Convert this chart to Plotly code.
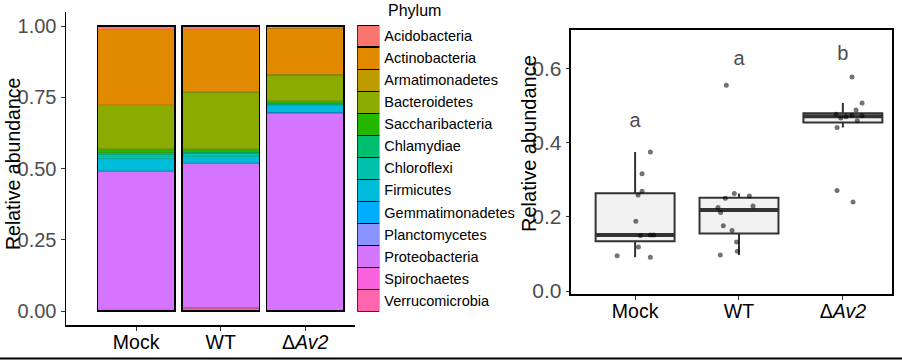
import numpy as np
import plotly.graph_objects as go

# ---------------- data ----------------
groups = ["Mock", "WT", "ΔAv2"]
group_ticktext = ["Mock", "WT", "Δ<i>Av2</i>"]

phyla = ["Acidobacteria", "Actinobacteria", "Armatimonadetes", "Bacteroidetes",
         "Saccharibacteria", "Chlamydiae", "Chloroflexi", "Firmicutes",
         "Gemmatimonadetes", "Planctomycetes", "Proteobacteria", "Spirochaetes",
         "Verrucomicrobia"]
phylum_colors = ["#F8766D", "#E18A00", "#BE9C00", "#8CAB00", "#24B700", "#00BE70",
                 "#00C1AB", "#00BBDA", "#00ACFC", "#8B93FF", "#D575FE", "#F962DD",
                 "#FF65AC"]

abund_mock = [0.014, 0.263, 0.002, 0.151, 0.015, 0.005, 0.015, 0.043, 0.002, 0.002, 0.483, 0.001, 0.004]
abund_wt   = [0.014, 0.217, 0.002, 0.197, 0.013, 0.004, 0.012, 0.020, 0.002, 0.002, 0.503, 0.004, 0.010]
abund_dav2 = [0.007, 0.163, 0.003, 0.090, 0.010, 0.002, 0.004, 0.024, 0.001, 0.002, 0.692, 0.001, 0.001]

# right panel: per-sample relative abundance with jitter offsets
vals_mock = [0.375, 0.316, 0.269, 0.259, 0.188, 0.150, 0.151, 0.151, 0.119, 0.095, 0.091]
jit_mock  = [0.147, 0.067, 0.067, 0.029, 0.007, 0.051, 0.147, 0.180, 0.032, -0.173, 0.147]
vals_wt   = [0.555, 0.263, 0.256, 0.250, 0.229, 0.225, 0.212, 0.176, 0.163, 0.132, 0.107, 0.097]
jit_wt    = [-0.122, -0.045, 0.100, -0.132, 0.135, -0.202, -0.177, -0.151, -0.067, -0.023, -0.016, -0.180]
vals_dav2 = [0.577, 0.507, 0.488, 0.477, 0.474, 0.473, 0.470, 0.467, 0.459, 0.441, 0.271, 0.240]
jit_dav2  = [0.088, 0.185, 0.127, -0.065, 0.088, 0.185, 0.030, -0.020, 0.139, -0.056, -0.056, 0.098]

letters = ["a", "a", "b"]
letter_y = [0.456, 0.624, 0.636]

# ---------------- styling ----------------
FONT = "Liberation Sans, Arial, sans-serif"
GREY_TXT = "#4D4D4D"
BAR_W = 0.92
BOX_W = 0.76

fig = go.Figure()
xpos = list(range(len(groups)))
abund = np.array([abund_mock, abund_wt, abund_dav2])  # groups x phyla

# stacked bars: last phylum at bottom (ggplot ordering)
for j in reversed(range(len(phyla))):
    fig.add_trace(go.Bar(
        x=xpos, y=abund[:, j], width=BAR_W, name=phyla[j],
        marker=dict(color=phylum_colors[j], line=dict(color="rgba(60,60,60,0.3)", width=0.5)),
        xaxis="x", yaxis="y", showlegend=False, hoverinfo="skip"))

# black outline per bar (overlay axis)
fig.add_trace(go.Bar(
    x=xpos, y=abund.sum(axis=1), width=BAR_W,
    marker=dict(color="rgba(0,0,0,0)", line=dict(color="black", width=1.5)),
    xaxis="x2", yaxis="y", showlegend=False, hoverinfo="skip"))

# legend keys as a subplot
fig.add_trace(go.Bar(
    y=phyla, x=[1] * len(phyla), orientation="h", width=1,
    marker=dict(color=phylum_colors, line=dict(color="black", width=1.2)),
    xaxis="x3", yaxis="y3", showlegend=False, hoverinfo="skip"))

# boxplots
all_vals = [vals_mock, vals_wt, vals_dav2]
all_jit = [jit_mock, jit_wt, jit_dav2]
q1s, meds, q3s, lows, highs = [], [], [], [], []
for v in all_vals:
    a = np.array(v)
    q1, med, q3 = np.percentile(a, [25, 50, 75])
    iqr = q3 - q1
    lows.append(float(a[a >= q1 - 1.5 * iqr].min()))
    highs.append(float(a[a <= q3 + 1.5 * iqr].max()))
    q1s.append(float(q1)); meds.append(float(med)); q3s.append(float(q3))

fig.add_trace(go.Box(
    x=xpos, q1=q1s, median=meds, q3=q3s, lowerfence=lows, upperfence=highs,
    width=BOX_W, whiskerwidth=0, fillcolor="#F2F2F2",
    line=dict(color="#333333", width=2), boxpoints=False,
    xaxis="x4", yaxis="y4", showlegend=False, hoverinfo="skip"))

# thick median lines
mx, my = [], []
for i, m in enumerate(meds):
    mx += [i - BOX_W / 2, i + BOX_W / 2, None]
    my += [m, m, None]
fig.add_trace(go.Scatter(x=mx, y=my, mode="lines", line=dict(color="#333333", width=4),
                         xaxis="x4", yaxis="y4", showlegend=False, hoverinfo="skip"))

# jittered points
px, py = [], []
for i, (v, jt) in enumerate(zip(all_vals, all_jit)):
    px += [i + d for d in jt]
    py += v
fig.add_trace(go.Scatter(x=px, y=py, mode="markers",
                         marker=dict(size=5, color="rgba(0,0,0,0.55)"),
                         xaxis="x4", yaxis="y4", showlegend=False, hoverinfo="skip"))

# significance letters
fig.add_trace(go.Scatter(x=xpos, y=letter_y, mode="text", text=letters,
                         textfont=dict(size=20, color=GREY_TXT, family=FONT),
                         xaxis="x4", yaxis="y4", showlegend=False, hoverinfo="skip"))

W, H = 902, 360
def px2x(p): return p / W
def px2y(p): return 1 - p / H

common = dict(showgrid=False, zeroline=False, automargin=False)

fig.update_layout(
    template="none",
    width=W, height=H, margin=dict(l=0, r=0, t=0, b=0, pad=0),
    paper_bgcolor="white", plot_bgcolor="white",
    font=dict(family=FONT, color="black"),
    barmode="stack", showlegend=False, hovermode=False,
    xaxis=dict(domain=[px2x(66), px2x(355)], range=[-0.83, 2.59],
               tickvals=xpos, ticktext=group_ticktext,
               tickfont=dict(size=19.5, color="black"),
               showline=True, linecolor="black", linewidth=1.5,
               ticks="outside", ticklen=4, tickcolor="#333333",
               ticklabelstandoff=-5, anchor="y", **common),
    xaxis2=dict(overlaying="x", range=[-0.83, 2.59], visible=False, anchor="y", automargin=False),
    yaxis=dict(domain=[px2y(325.25), px2y(11.75)], range=[-0.05, 1.05],
               tickvals=[0, 0.25, 0.5, 0.75, 1.0], tickformat=".2f",
               tickfont=dict(size=20, color=GREY_TXT),
               showline=True, linecolor="black", linewidth=1.5,
               ticks="outside", ticklen=4, tickcolor="#333333",
               anchor="x", **common),
    xaxis3=dict(domain=[px2x(357.3), px2x(379.3)], range=[0, 1], visible=False,
                anchor="y3", automargin=False),
    yaxis3=dict(domain=[px2y(311.7), px2y(25)], range=[len(phyla) - 0.5, -0.5],
                side="right", anchor="x3", showline=False, ticks="",
                tickfont=dict(size=14.5, color="black"), ticklabelstandoff=4, **common),
    xaxis4=dict(domain=[px2x(570.7), px2x(891.7)], range=[-0.62, 2.47],
                tickvals=xpos, ticktext=group_ticktext,
                tickfont=dict(size=19.5, color="black"),
                showline=True, mirror=True, linecolor="black", linewidth=2,
                ticks="outside", ticklen=4, tickcolor="#333333",
                ticklabelstandoff=-5, anchor="y4", **common),
    yaxis4=dict(domain=[px2y(294), px2y(30)], range=[-0.008, 0.704],
                tickvals=[0, 0.2, 0.4, 0.6], tickformat=".1f",
                tickfont=dict(size=21, color=GREY_TXT),
                showline=True, mirror=True, linecolor="black", linewidth=2,
                ticks="outside", ticklen=3, tickcolor="#333333",
                anchor="x4", **common),
    annotations=[
        dict(text="Relative abundance", xref="paper", yref="paper", x=px2x(13), y=px2y(164),
             textangle=-90, showarrow=False, font=dict(size=19.5, color="black"),
             xanchor="center", yanchor="middle"),
        dict(text="Relative abundance", xref="paper", yref="paper", x=px2x(529), y=px2y(144),
             textangle=-90, showarrow=False, font=dict(size=20, color="black"),
             xanchor="center", yanchor="middle"),
        dict(text="Phylum", xref="paper", yref="paper", x=px2x(386), y=px2y(10),
             showarrow=False, font=dict(size=16, color="black"),
             xanchor="left", yanchor="middle"),
    ],
    shapes=[dict(type="line", xref="paper", yref="paper", x0=0, x1=1,
                 y0=px2y(358.5), y1=px2y(358.5), line=dict(color="black", width=2))],
)

# remove the browser's default 8px page margin so the figure fills the window exactly
fig.write_html("out.html", config={"displayModeBar": False, "staticPlot": True},
               post_script="document.body.style.margin='0';document.body.style.overflow='hidden';")
